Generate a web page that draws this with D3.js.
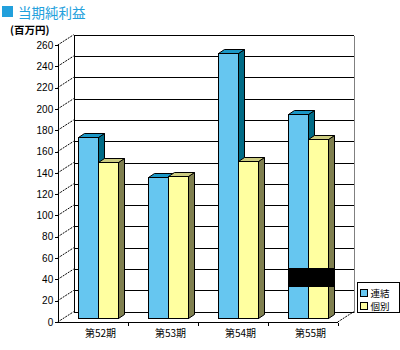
<!DOCTYPE html>
<html>
<head>
<meta charset="utf-8">
<script src="https://cdn.jsdelivr.net/npm/d3@7"></script>
<style>
  html, body { margin: 0; padding: 0; background: #fff; }
  svg { display: block; }
  text { font-family: "Liberation Sans", Arial, "Noto Sans CJK JP", sans-serif; }
  .jp { font-family: "Noto Sans CJK JP", "Noto Sans CJK SC", sans-serif; }
</style>
</head>
<body>
<svg id="chart" width="400" height="350"></svg>
<script>
// Net income for the period, consolidated vs. non-consolidated (millions of yen)
const categories = ["第52期", "第53期", "第54期", "第55期"];
const seriesNames = ["連結", "個別"];
const consolidated = [170, 133, 249, 192];
const nonConsolidated = [147, 134, 148, 168];
const yTickValues = [0, 20, 40, 60, 80, 100, 120, 140, 160, 180, 200, 220, 240, 260];
const maskBand = [29, 47];          // solid band drawn across the 第55期 pair
const maskCategory = "第55期";

const seriesValues = [consolidated, nonConsolidated];
const fronts = ["#66c6f0", "#ffffa0"];
const tops   = ["#1a97c6", "#cccc80"];
const sides  = ["#006b86", "#7f7f4f"];

const svg = d3.select("#chart");

// projection: front plane plus a receding depth vector
const DX = 16, DY = -10.3;             // full depth of the box
const BAR_T0 = 0.36, BAR_T = 0.375;   // bar front position and bar thickness (fractions of depth)

const x = d3.scaleBand().domain(categories).range([57.7, 337.7]).padding(0);
const GROUP_W = 40;
const sub = d3.scaleBand().domain(seriesNames).range([0, GROUP_W]).padding(0);
const y = d3.scaleLinear().domain([0, 260]).range([322, 45]);

const backX0 = 57.7 + DX, backX1 = 337.7 + DX;
const yBack = v => y(v) + DY;

// ---- title
svg.append("rect").attr("x", 2).attr("y", 6).attr("width", 11).attr("height", 11).attr("fill", "#22a0dc");
svg.append("text").attr("class", "jp").attr("x", 18).attr("y", 17.5)
  .attr("font-size", 13.5).attr("fill", "#22a0dc").text("当期純利益");
svg.append("text").attr("class", "jp").attr("x", 10).attr("y", 33.5)
  .attr("font-size", 10.5).attr("font-weight", "bold").attr("fill", "#000").text("(百万円)");

const g = svg.append("g").attr("shape-rendering", "crispEdges");

// ---- back wall gridlines
g.selectAll("line.grid").data(yTickValues).join("line")
  .attr("x1", backX0).attr("x2", backX1)
  .attr("y1", d => Math.round(yBack(d)) + 0.5).attr("y2", d => Math.round(yBack(d)) + 0.5)
  .attr("stroke", "#000");
// back wall left and right edges
g.append("line").attr("x1", Math.round(backX0) + 0.5).attr("x2", Math.round(backX0) + 0.5)
  .attr("y1", Math.round(yBack(260)) + 0.5).attr("y2", Math.round(yBack(0)) + 0.5).attr("stroke", "#000");
g.append("line").attr("x1", Math.round(backX1) + 0.5).attr("x2", Math.round(backX1) + 0.5)
  .attr("y1", Math.round(yBack(260)) + 0.5).attr("y2", Math.round(yBack(0)) + 0.5).attr("stroke", "#808080");

// ---- side wall: dotted receding lines from axis ticks
const dg = svg.append("g");
dg.selectAll("line.recede").data(yTickValues).join("line")
  .attr("x1", 57.7).attr("y1", d => y(d))
  .attr("x2", backX0).attr("y2", d => yBack(d))
  .attr("stroke", "#000").attr("stroke-width", 1).attr("stroke-dasharray", "2,1");
// floor right edge
dg.append("line").attr("x1", 337.7).attr("y1", y(0)).attr("x2", backX1).attr("y2", yBack(0))
  .attr("stroke", "#000").attr("stroke-dasharray", "2,1");

// ---- bars
const bars = [];
categories.forEach((c, i) => {
  seriesNames.forEach((s, j) => {
    bars.push({ cat: c, s, j, v: seriesValues[j][i] });
  });
});
const groupLeft = c => x(c) + (x.bandwidth() - GROUP_W) / 2 + BAR_T0 * DX;
const bx = d => groupLeft(d.cat) + sub(d.s);
const by = v => y(v) + BAR_T0 * DY;
const w = sub.bandwidth();
const ddx = BAR_T * DX, ddy = BAR_T * DY;

const bg = svg.append("g").attr("stroke", "#000").attr("stroke-width", 1).attr("stroke-linejoin", "miter");
bars.forEach(d => {
  const x0 = Math.round(bx(d)) + 0.5, x1 = Math.round(bx(d) + w) + 0.5;
  const yt = Math.round(by(d.v)) + 0.5, yb = Math.round(by(0)) + 0.5;
  const ox = Math.round(ddx), oy = Math.round(ddy);
  const grp = bg.append("g");
  grp.append("path").attr("fill", sides[d.j])
    .attr("d", `M${x1},${yt}L${x1 + ox},${yt + oy}L${x1 + ox},${yb + oy}L${x1},${yb}Z`);
  grp.append("path").attr("fill", tops[d.j])
    .attr("d", `M${x0},${yt}L${x0 + ox},${yt + oy}L${x1 + ox},${yt + oy}L${x1},${yt}Z`);
  grp.append("rect").attr("fill", fronts[d.j])
    .attr("x", x0).attr("y", yt).attr("width", x1 - x0).attr("height", yb - yt);
});

// ---- solid band over the last pair
{
  const xl = groupLeft(maskCategory) + sub(seriesNames[0]);
  const xr = groupLeft(maskCategory) + sub(seriesNames[1]) + w + ddx;
  svg.append("rect").attr("shape-rendering", "crispEdges")
    .attr("x", Math.round(xl)).attr("y", Math.round(by(maskBand[1])))
    .attr("width", Math.round(xr - xl) + 1).attr("height", Math.round(by(maskBand[0]) - by(maskBand[1])))
    .attr("fill", "#000");
}

// ---- front value axis
const yAxis = d3.axisLeft(y).tickValues(yTickValues).tickSize(3).tickPadding(2);
const ya = svg.append("g").attr("transform", "translate(58.2,0)").call(yAxis);
ya.select(".domain").attr("stroke", "#000").attr("d", `M-3,${y(260) + 0.5}H0.5V${y(0) + 0.5}`);
ya.selectAll(".tick line").attr("stroke", "#000");
ya.selectAll(".tick text").attr("font-size", 10).attr("fill", "#000")
  .attr("font-family", "'Liberation Sans', Arial, sans-serif");
ya.attr("shape-rendering", "crispEdges");

// ---- category axis along the floor front
const xAxis = d3.axisBottom(x).tickSize(0).tickPadding(5);
const xa = svg.append("g").attr("transform", `translate(0,${Math.round(y(0)) + 0.5})`).call(xAxis);
xa.select(".domain").attr("stroke", "#000").attr("d", `M57.7,0H338.2`).attr("shape-rendering", "crispEdges");
xa.selectAll(".tick text").attr("class", "jp").attr("font-size", 10).attr("fill", "#000")
  .attr("dx", 7.8).attr("dy", "0.9em");
xa.selectAll(".tick line").remove();
xa.selectAll("line.bound").data(categories).join("line").attr("class", "bound")
  .attr("x1", d => Math.round(x(d) + x.bandwidth()) + 0.5).attr("x2", d => Math.round(x(d) + x.bandwidth()) + 0.5)
  .attr("y1", 0).attr("y2", 3).attr("stroke", "#000").attr("shape-rendering", "crispEdges");

// ---- legend
const lg = svg.append("g").attr("transform", "translate(357.5,282.5)");
lg.append("rect").attr("width", 42).attr("height", 30).attr("fill", "#fff").attr("stroke", "#000")
  .attr("shape-rendering", "crispEdges");
seriesNames.forEach((s, j) => {
  const row = lg.append("g").attr("transform", `translate(3,${7 + j * 13})`);
  row.append("rect").attr("width", 7).attr("height", 7).attr("fill", fronts[j]).attr("stroke", "#000")
    .attr("shape-rendering", "crispEdges");
  row.append("text").attr("class", "jp").attr("x", 10).attr("y", 7.5).attr("font-size", 9.5)
    .attr("fill", "#000").text(s);
});
</script>
</body>
</html>
